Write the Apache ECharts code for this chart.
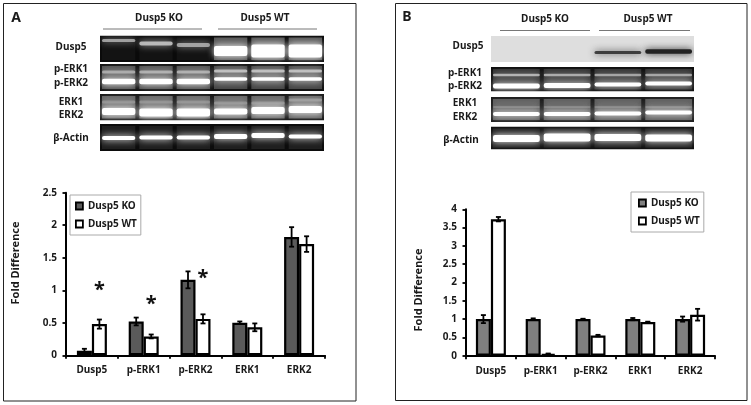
<!DOCTYPE html>
<html><head><meta charset="utf-8">
<style>html,body{margin:0;padding:0;background:#fff}#c{width:751px;height:405px}</style>
<script src="https://cdn.jsdelivr.net/npm/echarts@6/dist/echarts.min.js"></script>
</head><body><div id="c"></div>
<script>
const categories = ['Dusp5','p-ERK1','p-ERK2','ERK1','ERK2'];
const koA = [0.07,0.52,1.16,0.50,1.82];
const koAErr = [0.03,0.06,0.13,0.02,0.15];
const wtA = [0.48,0.29,0.56,0.43,1.71];
const wtAErr = [0.07,0.03,0.07,0.06,0.12];
const starsA = [1.03,0.82,1.22,null,null];
const koB = [1,1,1,1,1];
const koBErr = [0.11,0.02,0.01,0.03,0.07];
const wtB = [3.73,0.05,0.55,0.92,1.12];
const wtBErr = [0.06,0.01,0.02,0.01,0.16];
const KO = 'Dusp5 KO', WT = 'Dusp5 WT';
const FONT = '"Noto Sans", "Open Sans", sans-serif';

const blotA = [
 {y:35.5,h:26.5,bg:'#0a0a0a',haze:[.04,.04,.04,.3,.3,.3],bands:[
   {c:'#ccc',y:[40.5,43.5,45,50,50,50],h:[3,4,4,1,1,1],a:[.7,.85,.7,0,0,0]},
   {c:'#fff',y:[50,50,50,51,51,51],h:[1,1,1,10,13,13],a:[0,0,0,1,1,1]}]},
 {y:64,h:27,bg:'#101010',haze:[.25,.25,.25,.22,.22,.22],bands:[
   {c:'#ccc',y:[72,72,72,71,71,71],h:[3,3,3,3,3,3],a:[.65,.7,.7,.85,.85,.85]},
   {c:'#fff',y:[81.5,81.5,81.5,79,79,79],h:[5.5,5.5,5.5,3.5,3.5,3.5],a:[1,1,1,1,1,1]}]},
 {y:94,h:26.5,bg:'#161616',haze:[.32,.32,.32,.32,.32,.32],bands:[
   {c:'#aaa',y:[102,102,102,103,103,100],h:[3,3,3,3,3,3],a:[.55,.55,.55,.55,.55,.7]},
   {c:'#fff',y:[111.5,112.5,112.5,111.5,110.5,109.5],h:[7,8,8,6,7,7],a:[1,1,1,1,1,1]}]},
 {y:124,h:27,bg:'#0c0c0c',haze:[.08,.08,.08,.08,.08,.08],bands:[
   {c:'#fff',y:[138,137.5,137.5,136.5,135.5,136.5],h:[4,4,4,5,5,4],a:[1,1,1,1,1,1]}]}
];
const blotB = [
 {y:36,h:26,bg:'#dedede',haze:[0,0,0,0],bands:[
   {c:'#222',y:[52,52,52.5,51.5],h:[1,1,3,4.5],a:[0,0,.8,1]}]},
 {y:67,h:24.5,bg:'#0c0c0c',haze:[.14,.14,.14,.14],bands:[
   {c:'#ccc',y:[75,75,75,75],h:[2.5,2.5,2.5,2.5],a:[.8,.75,.7,.7]},
   {c:'#fff',y:[86,85.5,84.5,83.5],h:[5,5,4,4],a:[1,1,1,1]}]},
 {y:97,h:25,bg:'#1c1c1c',haze:[.28,.28,.28,.28],bands:[
   {c:'#999',y:[107,107,107,107],h:[2,2,2,2],a:[.5,.5,.5,.5]},
   {c:'#fff',y:[114,114,113.5,112.5],h:[4,4,4,4],a:[1,1,1,1]}]},
 {y:126.5,h:23,bg:'#111',haze:[.08,.08,.08,.08],bands:[
   {c:'#fff',y:[138.5,137.5,137.5,138],h:[7,8,7,7],a:[1,1,1,1]}]}
];

function blot(rows, x0, x1){
  const out=[], w=(x1-x0)/rows[0].haze.length;
  rows.forEach(r=>{
    out.push({type:'rect',shape:{x:x0,y:r.y,width:x1-x0,height:r.h},style:{fill:r.bg},z:5});
    r.haze.forEach((a,i)=>{ if(a>0) out.push({type:'rect',shape:{x:x0+i*w+2,y:r.y+2,width:w-4,height:r.h-4},
      style:{fill:'rgba(255,255,255,'+a+')',shadowBlur:6,shadowColor:'rgba(255,255,255,'+a+')'},z:5}); });
    r.bands.forEach(b=>b.y.forEach((y,i)=>{ if(b.a[i]>0) out.push({type:'rect',
      shape:{x:x0+i*w+2,y:y-b.h[i]/2,width:w-4,height:b.h[i],r:Math.min(2,b.h[i]/2)},
      style:{fill:b.c,opacity:b.a[i],shadowBlur:7,shadowColor:b.c},z:6}); }));
  });
  rows.forEach((r,k)=>{
    const top = k? rows[k-1].y+rows[k-1].h : r.y-8;
    out.push({type:'rect',shape:{x:x0-8,y:top,width:x1-x0+16,height:r.y-top},style:{fill:'#fff'},z:7});
    out.push({type:'rect',shape:{x:x0-8,y:r.y,width:8,height:r.h},style:{fill:'#fff'},z:7});
    out.push({type:'rect',shape:{x:x1,y:r.y,width:8,height:r.h},style:{fill:'#fff'},z:7});
  });
  const l=rows[rows.length-1];
  out.push({type:'rect',shape:{x:x0-8,y:l.y+l.h,width:x1-x0+16,height:8},style:{fill:'#fff'},z:7});
  return out;
}
function t(text,x,y,size,align){
  return {type:'text',x,y,z:8,style:{text,fill:'#1a1a1a',font:'bold '+(size||10)+'px '+FONT,textAlign:align||'center',textVerticalAlign:'middle'}};
}
function frame(x,y,w,h){return {type:'rect',shape:{x,y,width:w,height:h},style:{fill:'none',stroke:'#222',lineWidth:1},z:1};}
function rule(x1,x2,y){return {type:'line',shape:{x1,y1:y,x2,y2:y},style:{stroke:'#777',lineWidth:1},z:8};}

const graphic=[
  frame(3.5,3.5,352.5,397.5), frame(395.5,3.5,351.5,397),
  ...blot(blotA,100,324), ...blot(blotB,491,694),
  t('A',16,18,14), t('B',407,17,14),
  t(KO,159,18), t(WT,265,18), rule(103,202,29), rule(218,317,29),
  t(KO,545,19.5), t(WT,648,19.5), rule(500,590,30.5), rule(599,690,30.5),
  t('Dusp5',71,47.5), t('p-ERK1',71,69), t('p-ERK2',71,83), t('ERK1',71,102), t('ERK2',71,115), t('β-Actin',71,138),
  t('Dusp5',468,46), t('p-ERK1',465,73), t('p-ERK2',465,86), t('ERK1',465,103), t('ERK2',465,117), t('β-Actin',461,140)
];

const BW=15;
function errSeries(values,errs,side,g){
  return {type:'custom',coordinateSystem:'cartesian2d',xAxisIndex:g,yAxisIndex:g,z:6,silent:true,
    data:values.map((v,i)=>[i,v-errs[i],v+errs[i]]),
    renderItem(p,api){
      const lo=api.coord([api.value(0),api.value(1)]), hi=api.coord([api.value(0),api.value(2)]);
      const x=lo[0]+side*BW/2, s={stroke:'#000',lineWidth:1.8};
      return {type:'group',children:[
        {type:'line',shape:{x1:x,y1:lo[1],x2:x,y2:hi[1]},style:s},
        {type:'line',shape:{x1:x-2.5,y1:lo[1],x2:x+2.5,y2:lo[1]},style:s},
        {type:'line',shape:{x1:x-2.5,y1:hi[1],x2:x+2.5,y2:hi[1]},style:s}]};
    }};
}
function starSeries(values,g){
  return {type:'custom',coordinateSystem:'cartesian2d',xAxisIndex:g,yAxisIndex:g,z:7,silent:true,
    data:values.map((v,i)=>v==null?null:[i,v]).filter(Boolean),
    renderItem(p,api){
      const c=api.coord([api.value(0),api.value(1)]);
      return {type:'text',x:c[0]+BW/2,y:c[1]+2,style:{text:'*',fill:'#111',font:'bold 20px '+FONT,textAlign:'center',textVerticalAlign:'middle'}};
    }};
}
function bar(name,data,color,g){
  return {type:'bar',name,data,xAxisIndex:g,yAxisIndex:g,barWidth:BW,barGap:'0%',z:3,silent:true,
    itemStyle:{color,borderColor:'#000',borderWidth:2.2}};
}
function xAx(g){return {type:'category',gridIndex:g,data:categories,
  axisLine:{onZero:false,lineStyle:{color:'#000',width:2}},
  axisTick:{show:true,length:3.5,lineStyle:{color:'#000',width:1.8}},
  axisLabel:{color:'#1a1a1a',fontFamily:FONT,fontWeight:'bold',fontSize:10,margin:10,interval:0}};}
function yAx(g,max,nameGap,pad){return {type:'value',gridIndex:g,min:0,max,interval:0.5,name:'Fold Difference',
  nameLocation:'middle',nameGap,nameTextStyle:{color:'#1a1a1a',fontFamily:FONT,fontSize:11,fontWeight:'bold',padding:pad},
  splitLine:{show:false},
  axisLine:{show:true,lineStyle:{color:'#000',width:2}},
  axisTick:{show:true,length:3.5,lineStyle:{color:'#000',width:1.8}},
  axisLabel:{color:'#1a1a1a',fontFamily:FONT,fontWeight:'bold',fontSize:10,margin:9}};}
function leg(left,top,koColor,padding){return {show:true,orient:'vertical',left,top,icon:'rect',itemWidth:7,itemHeight:7,itemGap:8,
  padding,borderColor:'#aaa',borderWidth:1,backgroundColor:'#fff',selectedMode:false,z:9,
  textStyle:{color:'#1a1a1a',fontFamily:FONT,fontWeight:'bold',fontSize:10},
  data:[{name:KO,itemStyle:{color:koColor,borderColor:'#000',borderWidth:1.8}},{name:WT,itemStyle:{color:'#fff',borderColor:'#000',borderWidth:1.8}}]};}

const chart=echarts.init(document.getElementById('c'),null,{renderer:'canvas'});
chart.setOption({
  animation:false,backgroundColor:'#fff',
  graphic,
  legend:[leg(70,195,'#5a5a5a',[6,4,6,5]),leg(631,192,'#7f7f7f',[6,4,6,7])],
  grid:[{left:66,width:259,top:192.7,height:162.6},{left:466,width:249,top:209.3,height:146.4}],
  xAxis:[xAx(0),xAx(1)],
  yAxis:[yAx(0,2.5,45,[0,0,0,22]),yAx(1,4,42,[0,15,0,0])],
  series:[
    bar(KO,koA,'#5a5a5a',0),bar(WT,wtA,'#fff',0),
    bar(KO,koB,'#7f7f7f',1),bar(WT,wtB,'#fff',1),
    errSeries(koA,koAErr,-1,0),errSeries(wtA,wtAErr,1,0),
    errSeries(koB,koBErr,-1,1),errSeries(wtB,wtBErr,1,1),
    starSeries(starsA,0)
  ]
});
</script></body></html>
